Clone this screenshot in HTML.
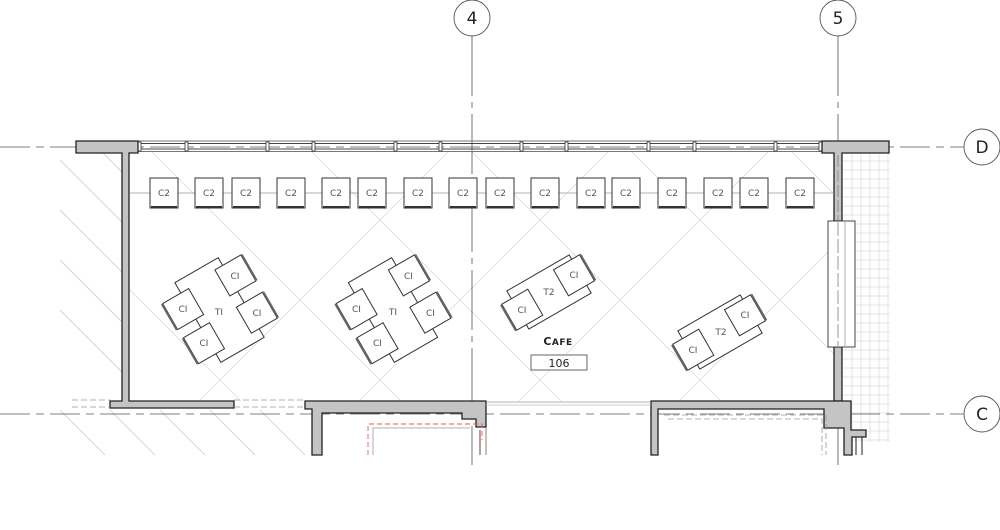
<!DOCTYPE html>
<html><head><meta charset="utf-8"><style>
html,body{margin:0;padding:0;background:#fff;width:1000px;height:530px;overflow:hidden}
svg{display:block;position:absolute;left:0;top:0}
text{font-family:"DejaVu Sans","Liberation Sans",sans-serif}
</style></head><body>
<svg width="1000" height="530" viewBox="0 0 1000 530" xmlns="http://www.w3.org/2000/svg">
<defs>
<clipPath id="room"><rect x="130" y="152" width="704" height="249"/></clipPath>
<clipPath id="left"><rect x="60" y="152" width="62" height="300"/></clipPath>
<clipPath id="bot"><rect x="60" y="410" width="250" height="45"/></clipPath>
<clipPath id="grd"><rect x="843" y="152" width="47" height="290"/></clipPath>
<g id="chC2">
<rect x="0" y="0" width="28" height="30" fill="#fff" stroke="#333" stroke-width="1"/>
<line x1="1" y1="29" x2="27" y2="29" stroke="#333" stroke-width="2"/>
<text x="14" y="18" font-size="9" fill="#555" text-anchor="middle">C2</text>
</g>
<g id="chCIr">
<rect x="-15" y="-15" width="30" height="30" fill="#fff" stroke="#333" stroke-width="1"/>
<line x1="16" y1="-15" x2="16" y2="15" stroke="#666" stroke-width="2"/>
</g>
<g id="chCIl">
<rect x="-15" y="-15" width="30" height="30" fill="#fff" stroke="#333" stroke-width="1"/>
<line x1="-16" y1="-15" x2="-16" y2="15" stroke="#666" stroke-width="2"/>
</g>
<g id="T1">
<rect x="-25" y="-46" width="50" height="92" fill="#fff" stroke="#333"/>
<use href="#chCIr" x="31" y="-22"/>
<use href="#chCIr" x="31" y="21"/>
<use href="#chCIl" x="-31" y="-19"/>
<use href="#chCIl" x="-30" y="21"/>
</g>
<g id="T2">
<rect x="-36" y="-22" width="72" height="44" fill="#fff" stroke="#333"/>
<use href="#chCIr" x="30" y="-2"/>
<use href="#chCIl" x="-32" y="2"/>
</g>
</defs>

<g clip-path="url(#room)" stroke="#ddd" stroke-width="0.8">
<line x1="0" y1="0" x2="600" y2="600"/><line x1="160" y1="0" x2="760" y2="600"/>
<line x1="320" y1="0" x2="920" y2="600"/><line x1="480" y1="0" x2="1080" y2="600"/>
<line x1="640" y1="0" x2="1240" y2="600"/><line x1="-160" y1="0" x2="440" y2="600"/>
<line x1="-320" y1="0" x2="280" y2="600"/>
<line x1="0" y1="600" x2="600" y2="0"/><line x1="160" y1="600" x2="760" y2="0"/>
<line x1="320" y1="600" x2="920" y2="0"/><line x1="480" y1="600" x2="1080" y2="0"/>
<line x1="640" y1="600" x2="1240" y2="0"/><line x1="800" y1="600" x2="1400" y2="0"/>
<line x1="960" y1="600" x2="1560" y2="0"/>
</g>
<g clip-path="url(#left)" stroke="#ccc" stroke-width="0.8">
<line x1="40" y1="140" x2="360" y2="460"/><line x1="40" y1="190" x2="360" y2="510"/>
<line x1="40" y1="240" x2="360" y2="560"/><line x1="40" y1="290" x2="360" y2="610"/>
<line x1="40" y1="90" x2="360" y2="410"/><line x1="40" y1="40" x2="360" y2="360"/>
</g>
<g clip-path="url(#bot)" stroke="#ccc" stroke-width="0.8">
<line x1="40" y1="390" x2="120" y2="470"/><line x1="90" y1="390" x2="170" y2="470"/>
<line x1="140" y1="390" x2="220" y2="470"/><line x1="190" y1="390" x2="270" y2="470"/>
<line x1="240" y1="390" x2="320" y2="470"/>
</g>
<g clip-path="url(#grd)" stroke="#ddd" stroke-width="0.8">
<line x1="852" y1="150" x2="852" y2="445"/><line x1="861" y1="150" x2="861" y2="445"/>
<line x1="870" y1="150" x2="870" y2="445"/><line x1="879" y1="150" x2="879" y2="445"/>
<line x1="888" y1="150" x2="888" y2="445"/>
<path d="M840 161H890M840 170H890M840 179H890M840 188H890M840 197H890M840 206H890M840 215H890M840 224H890M840 233H890M840 242H890M840 251H890M840 260H890M840 269H890M840 278H890M840 287H890M840 296H890M840 305H890M840 314H890M840 323H890M840 332H890M840 341H890M840 350H890M840 359H890M840 368H890M840 377H890M840 386H890M840 395H890M840 404H890M840 413H890M840 422H890M840 431H890M840 440H890"/>
</g>

<g stroke="#555" stroke-width="0.8" fill="none">
<line x1="472" y1="36" x2="472" y2="465" stroke-dasharray="60 6 6 6"/>
<line x1="838" y1="36" x2="838" y2="465" stroke-dasharray="60 6 6 6"/>
<line x1="0" y1="147" x2="964" y2="147" stroke-dasharray="30 6 8 6"/>
<line x1="0" y1="414" x2="964" y2="414" stroke-dasharray="30 6 8 6"/>
</g>
<g fill="#fff" stroke="#555" stroke-width="0.9">
<circle cx="472" cy="18" r="18"/><circle cx="838" cy="18" r="18"/>
<circle cx="982" cy="147" r="18"/><circle cx="982" cy="414" r="18"/>
</g>
<g font-size="17" fill="#222" text-anchor="middle">
<text x="472" y="24">4</text><text x="838" y="24">5</text>
<text x="982" y="153">D</text><text x="982" y="420">C</text>
</g>

<g stroke="#777" stroke-width="1" fill="none">
<line x1="138" y1="141" x2="822" y2="141"/>
<line x1="138" y1="143.5" x2="822" y2="143.5" stroke="#444"/>
<line x1="138" y1="149" x2="822" y2="149" stroke="#444"/>
<line x1="138" y1="151.5" x2="822" y2="151.5"/>
</g>
<g fill="#fff" stroke="#333" stroke-width="0.8">
<rect x="185" y="142" width="3" height="9"/><rect x="266" y="142" width="3" height="9"/>
<rect x="312" y="142" width="3" height="9"/><rect x="394" y="142" width="3" height="9"/>
<rect x="439" y="142" width="3" height="9"/><rect x="520" y="142" width="3" height="9"/>
<rect x="565" y="142" width="3" height="9"/><rect x="647" y="142" width="3" height="9"/>
<rect x="693" y="142" width="3" height="9"/><rect x="774" y="142" width="3" height="9"/>
<rect x="819" y="142" width="3" height="9"/><rect x="138" y="142" width="3" height="9"/>
</g>

<g fill="#c4c4c4" stroke="#222" stroke-width="1.3">
<path d="M76 141H138V153H129V401H234V408H110V401H122V153H76Z"/>
<path d="M822 141H889V153H842V221H834V153H822Z"/>
<path d="M834 347H842V401H834Z"/>
<path d="M305 401H486V427H476V419H462V413H322V455H312V409H305Z"/>
<path d="M651 401H842V401H851V430H866V437H852V455H844V428H824V409H658V455H651Z"/>
</g>
<line x1="838" y1="155" x2="838" y2="220" stroke="#666" stroke-width="0.6" stroke-dasharray="12 3"/>
<rect x="828" y="221" width="27" height="126" fill="#fff" stroke="#333" stroke-width="0.9"/>
<line x1="838" y1="222" x2="838" y2="346" stroke="#555" stroke-width="0.6" stroke-dasharray="14 3"/>
<line x1="845" y1="222" x2="845" y2="346" stroke="#777" stroke-width="0.6"/>
<g stroke="#999" stroke-width="0.8" fill="none" stroke-dasharray="6 3">
<line x1="72" y1="400" x2="110" y2="400"/><line x1="72" y1="407" x2="110" y2="407"/>
<line x1="234" y1="400" x2="305" y2="400"/><line x1="234" y1="407" x2="305" y2="407"/>
<path d="M664 415H826V455M668 419H822V455"/>
</g>
<line x1="486" y1="402" x2="651" y2="402" stroke="#999" stroke-width="0.8"/>
<line x1="486" y1="405" x2="651" y2="405" stroke="#bbb" stroke-width="0.8"/>
<path d="M368 455V424H482V440" fill="none" stroke="#e55" stroke-width="0.9" stroke-dasharray="5 3"/>
<path d="M373 455V428H470" fill="none" stroke="#999" stroke-width="0.8"/>
<line x1="480" y1="430" x2="480" y2="455" stroke="#600" stroke-width="0.8"/>
<line x1="486" y1="427" x2="486" y2="455" stroke="#666" stroke-width="0.8"/>
<line x1="856" y1="437" x2="856" y2="455" stroke="#222" stroke-width="1"/>
<line x1="862" y1="437" x2="862" y2="455" stroke="#222" stroke-width="1"/>

<line x1="130" y1="193" x2="834" y2="193" stroke="#999" stroke-width="0.8"/>
<use href="#chC2" x="150" y="178"/><use href="#chC2" x="195" y="178"/>
<use href="#chC2" x="232" y="178"/><use href="#chC2" x="277" y="178"/>
<use href="#chC2" x="322" y="178"/><use href="#chC2" x="358" y="178"/>
<use href="#chC2" x="404" y="178"/><use href="#chC2" x="449" y="178"/>
<use href="#chC2" x="486" y="178"/><use href="#chC2" x="531" y="178"/>
<use href="#chC2" x="577" y="178"/><use href="#chC2" x="612" y="178"/>
<use href="#chC2" x="658" y="178"/><use href="#chC2" x="704" y="178"/>
<use href="#chC2" x="740" y="178"/><use href="#chC2" x="786" y="178"/>

<g transform="translate(219.5 310) rotate(-30)"><use href="#T1"/></g>
<g transform="translate(393 310) rotate(-30)"><use href="#T1"/></g>
<g transform="translate(549 292) rotate(-30)"><use href="#T2"/></g>
<g transform="translate(720 332) rotate(-30)"><use href="#T2"/></g>
<g font-size="9" fill="#555" text-anchor="middle">
<text x="219" y="315">TI</text><text x="393" y="315">TI</text>
<text x="549" y="295">T2</text><text x="721" y="335">T2</text>
<text x="235" y="279">CI</text><text x="257" y="316">CI</text>
<text x="183" y="312">CI</text><text x="204" y="346">CI</text>
<text x="408.5" y="279">CI</text><text x="430.5" y="316">CI</text>
<text x="356.5" y="312">CI</text><text x="377.5" y="346">CI</text>
<text x="574" y="278">CI</text><text x="522" y="313">CI</text>
<text x="745" y="318">CI</text><text x="693" y="353">CI</text>
</g>

<text x="558" y="345" font-size="11" fill="#222" text-anchor="middle" font-weight="bold" letter-spacing="0.5">C<tspan font-size="9">AFE</tspan></text>
<rect x="531" y="355" width="56" height="15" fill="#fff" stroke="#555" stroke-width="0.9"/>
<text x="559" y="367" font-size="11" fill="#222" text-anchor="middle">106</text>
</svg>
</body></html>
